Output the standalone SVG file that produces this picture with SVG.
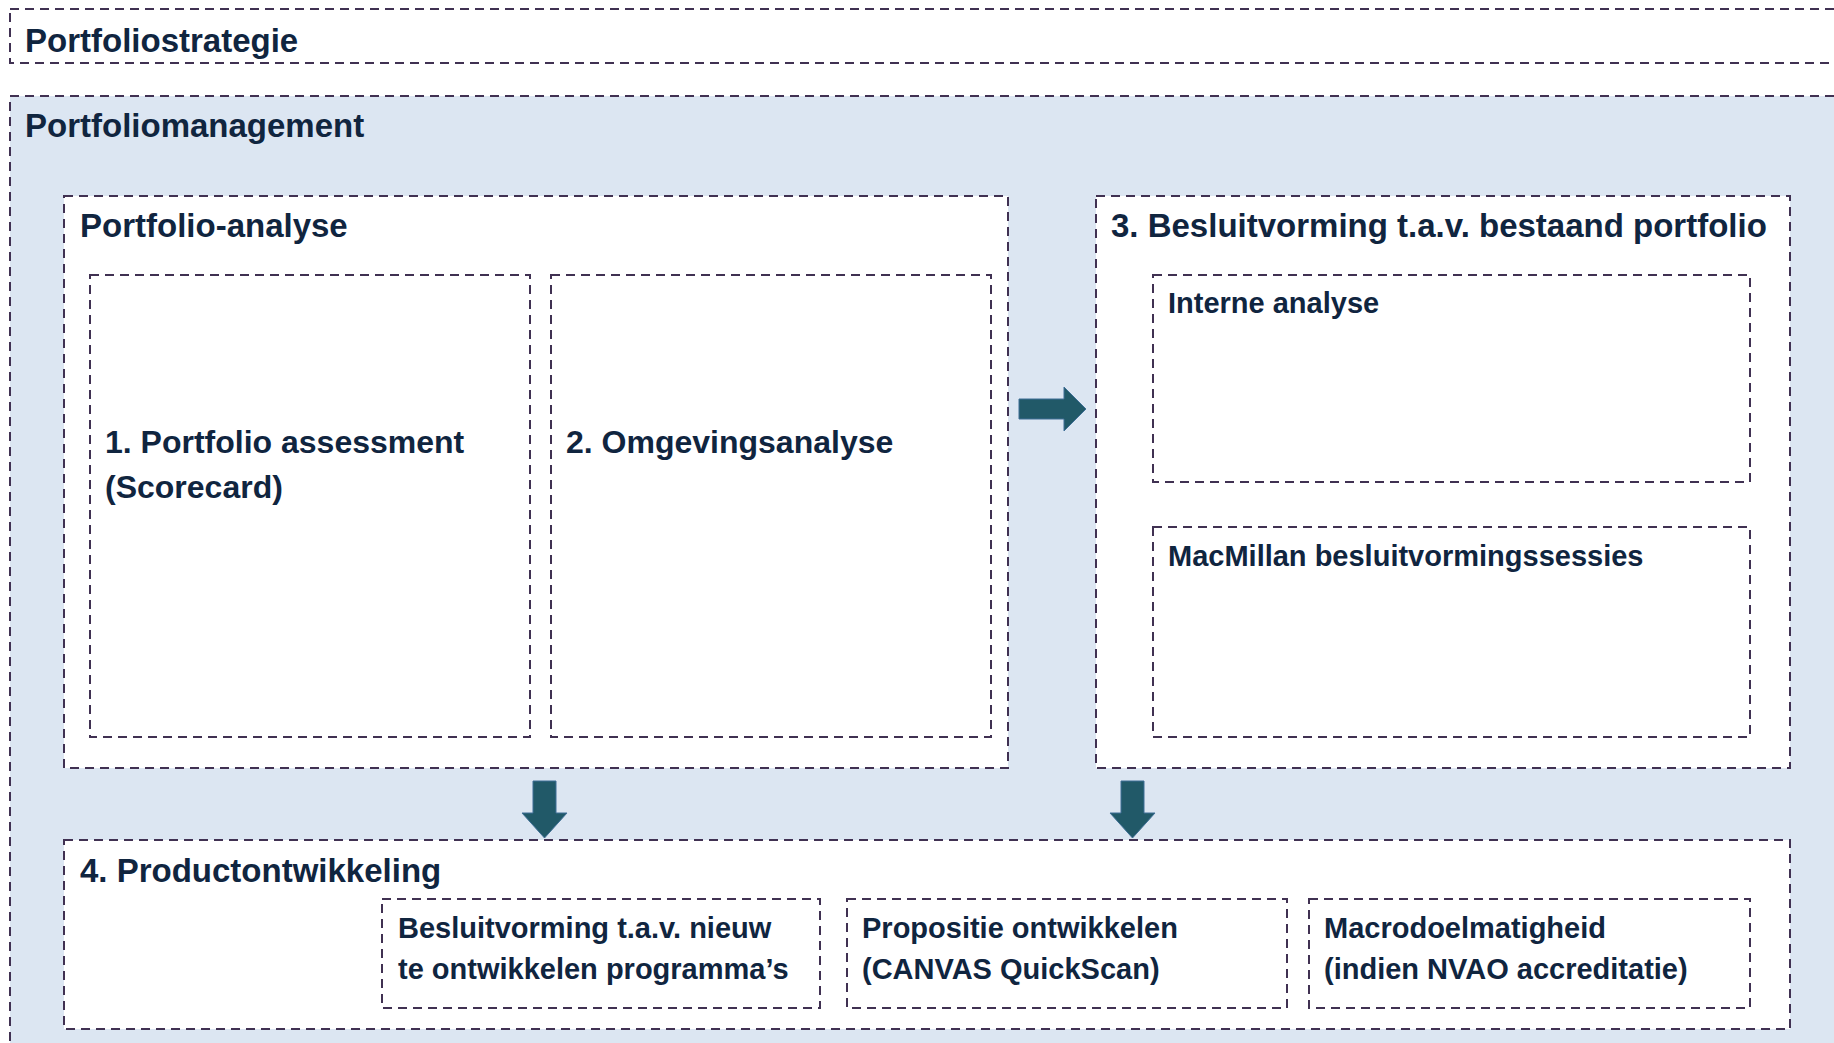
<svg xmlns="http://www.w3.org/2000/svg" width="1834" height="1043" viewBox="0 0 1834 1043">
<style>
  .box { fill: #ffffff; stroke: #403152; stroke-width: 2; stroke-dasharray: 9 6; }
  .mgmt { fill: #dce6f2; stroke: #403152; stroke-width: 2; stroke-dasharray: 9 6; }
  .t { font-family: "Liberation Sans", Arial, sans-serif; font-weight: bold; fill: #10253f; }
  .hh { font-size: 33px; }
  .h { font-size: 32px; }
  .s { font-size: 29px; }
  .arrow { fill: #215968; stroke: #3f6f96; stroke-width: 1; }
</style>
<rect width="1834" height="1043" fill="#ffffff"/>

<g id="portfoliostrategie">
  <rect class="box" x="10" y="9" width="1850" height="54"/>
  <text class="t hh" x="25" y="52">Portfoliostrategie</text>
</g>

<g id="portfoliomanagement">
  <rect class="mgmt" x="10" y="96" width="1850" height="970"/>
  <text class="t hh" x="25" y="137">Portfoliomanagement</text>
</g>

<g id="portfolio-analyse">
  <rect class="box" x="64" y="196" width="944" height="572"/>
  <text class="t hh" x="80" y="237">Portfolio-analyse</text>
</g>

<g id="portfolio-assessment">
  <rect class="box" x="90" y="275" width="440" height="462"/>
  <text class="t h" x="105" y="453">1. Portfolio assessment</text>
  <text class="t h" x="105" y="498">(Scorecard)</text>
</g>

<g id="omgevingsanalyse">
  <rect class="box" x="551" y="275" width="440" height="462"/>
  <text class="t h" x="566" y="453">2. Omgevingsanalyse</text>
</g>

<g id="besluitvorming-bestaand">
  <rect class="box" x="1096" y="196" width="694" height="572"/>
  <text class="t hh" x="1111" y="237">3. Besluitvorming t.a.v. bestaand portfolio</text>
</g>

<g id="interne-analyse">
  <rect class="box" x="1153" y="275" width="597" height="207"/>
  <text class="t s" x="1168" y="313">Interne analyse</text>
</g>

<g id="macmillan">
  <rect class="box" x="1153" y="527" width="597" height="210"/>
  <text class="t s" x="1168" y="566">MacMillan besluitvormingssessies</text>
</g>

<g id="productontwikkeling">
  <rect class="box" x="64" y="840" width="1726" height="189"/>
  <text class="t hh" x="80" y="882">4. Productontwikkeling</text>
</g>

<g id="besluitvorming-nieuw">
  <rect class="box" x="382" y="899" width="438" height="109"/>
  <text class="t s" x="398" y="938">Besluitvorming t.a.v. nieuw</text>
  <text class="t s" x="398" y="979">te ontwikkelen programma’s</text>
</g>

<g id="propositie">
  <rect class="box" x="847" y="899" width="440" height="109"/>
  <text class="t s" x="862" y="938">Propositie ontwikkelen</text>
  <text class="t s" x="862" y="979">(CANVAS QuickScan)</text>
</g>

<g id="macrodoelmatigheid">
  <rect class="box" x="1309" y="899" width="441" height="109"/>
  <text class="t s" x="1324" y="938">Macrodoelmatigheid</text>
  <text class="t s" x="1324" y="979">(indien NVAO accreditatie)</text>
</g>

<g id="connectors">
  <polygon class="arrow" points="1019,399 1064,399 1064,387 1086,409 1064,431 1064,419 1019,419"/>
  <polygon class="arrow" points="533,781 556,781 556,813 567,813 544.5,838 522,813 533,813"/>
  <polygon class="arrow" points="1121,781 1144,781 1144,813 1155,813 1132.5,838 1110,813 1121,813"/>
</g>
</svg>
